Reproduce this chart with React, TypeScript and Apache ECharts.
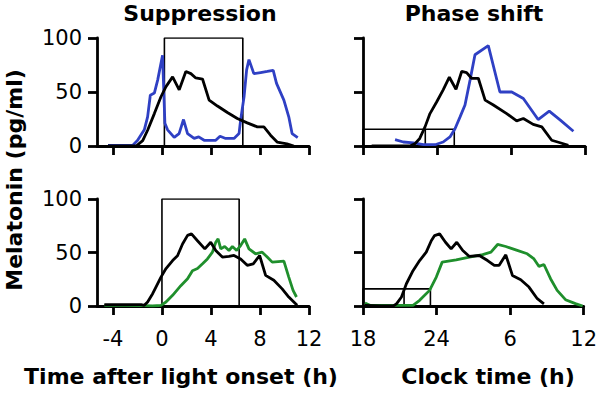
import React, { useEffect, useRef } from "react";
import * as echarts from "echarts";

// ---- axis ticks ----
const yTicks = [0, 50, 100];
const leftXTicks = [-4, 0, 4, 8, 12];
const rightXTicks = [18, 24, 30, 36];

// ---- texts ----
const titleLeft = "Suppression";
const titleRight = "Phase shift";
const xNameLeft = "Time after light onset (h)";
const xNameRight = "Clock time (h)";
const yName = "Melatonin (pg/ml)";

// ---- top-left: suppression (baseline black, light blue) ----
const supBaseX = [-4.4, -3, -2.1, -1.57, -1.17, -0.62, -0.08, 0.33, 0.87, 1.41, 1.95, 2.36, 2.76, 3.31, 3.85, 4.53, 5.34, 6.15, 6.96, 7.78, 8.32, 8.86, 9.4, 10.2, 10.76];
const supBaseY = [0, 0, 0, 5, 14.6, 30, 45.6, 55, 64, 52, 69, 67, 63, 62, 42.5, 37, 31, 25.5, 21.4, 17.7, 17.7, 10, 3.7, 2, 0];
const supBlueX = [-4.4, -3.5, -2.4, -2.0, -1.44, -1.17, -0.95, -0.62, -0.35, 0.05, 0.24, 0.46, 1.0, 1.4, 1.76, 2.09, 2.63, 3.0, 3.44, 3.85, 4.39, 4.74, 5.2, 5.88, 6.29, 6.42, 6.7, 6.91, 7.1, 7.5, 8.05, 8.6, 9.08, 9.35, 9.95, 10.35, 10.62, 11.08];
const supBlueY = [0.6, 0.6, 0.5, 5, 15, 27, 47, 49, 61, 84, 21, 15, 8, 11.5, 24.5, 11.5, 7, 8.4, 5.3, 5.3, 5.3, 9, 7, 7, 11.5, 24, 45.6, 70.5, 80, 67, 68, 69, 70, 58, 42.5, 27, 11.5, 7.8];

// ---- bottom-left: suppression (baseline black, light green) ----
const supBase2X = [-4.7, -3, -1.7, -1.44, -1.17, -0.76, -0.49, -0.08, 0.33, 0.87, 1.27, 1.68, 2.09, 2.41, 2.9, 3.5, 3.98, 4.39, 4.93, 5.47, 5.88, 6.42, 6.96, 7.45, 7.97, 8.46, 9.13, 9.81, 10.35, 11.03];
const supBase2Y = [1.2, 1.2, 1.2, 0.6, 3.7, 11.5, 17.7, 27, 35, 42.5, 47, 58, 66, 67.4, 61, 53.4, 59.6, 51.9, 45.7, 46.3, 47.2, 44, 38, 39.4, 47.2, 28.6, 24, 16, 8.4, 0.6];
const supGreenX = [-4.7, -3, -1.5, -0.76, -0.08, 0.33, 0.87, 1.54, 2.09, 2.49, 2.9, 3.31, 3.71, 4.12, 4.39, 4.58, 4.8, 5.12, 5.47, 5.75, 6.1, 6.42, 6.75, 7.1, 7.64, 8.18, 8.59, 9.0, 9.95, 10.35, 10.7, 10.98];
const supGreenY = [0.6, 0.6, 0.3, 0, 0.6, 3.7, 10, 19, 25.5, 33, 35, 39.4, 44, 50.3, 59.6, 62.7, 53.4, 55.6, 51.9, 55.6, 51.9, 56.5, 62.7, 53.4, 48.8, 50.3, 45.7, 41, 42, 27, 14.6, 8.4];

// ---- top-right: phase shift (baseline black, after blue) ----
const phBaseX = [18.7, 20, 21.8, 22.2, 22.6, 23.03, 23.43, 23.98, 24.5, 25.0, 25.54, 26.0, 26.4, 26.8, 27.35, 27.9, 28.57, 29.65, 30.46, 31.0, 31.8, 32.5, 33.3, 33.98, 34.65];
const phBaseY = [0, 0, 0, 2, 7, 17.7, 30, 41, 52, 63.7, 52.5, 69, 68, 62.7, 62.7, 42.5, 38, 30, 23.3, 25.5, 20, 17.7, 5.3, 3, 0.6];
const phBlueX = [20.6, 21.27, 22.08, 22.9, 23.84, 24.5, 25.05, 25.46, 25.87, 26.27, 26.68, 27.08, 28.16, 29.1, 30.06, 31.0, 32.2, 33.1, 34.0, 35.06];
const phBlueY = [5.9, 3.7, 2.8, 1.2, 1.2, 3.7, 8.4, 16, 27, 38, 61, 84.5, 93, 50, 50, 44, 24.5, 32.3, 24, 13.7];

// ---- bottom-right: phase shift (baseline black, after green) ----
const phBase2X = [18.16, 19.5, 20.46, 20.73, 21.14, 21.54, 22.08, 22.62, 23.16, 23.57, 23.84, 24.25, 24.73, 25.19, 25.65, 26.14, 26.68, 27.49, 28.16, 28.71, 29.11, 29.65, 30.19, 30.87, 31.54, 32.22, 32.76];
const phBase2Y = [0.6, 0, 0, 2, 8.4, 20.8, 33, 42.5, 50.3, 61, 65.8, 67.4, 59.6, 53.4, 59.6, 51.9, 46.3, 47.2, 42.5, 38, 38, 47.8, 28.6, 24.5, 17.7, 6.8, 2];
const phGreenX = [18.16, 18.57, 20, 21.8, 22.08, 22.62, 23.43, 23.98, 24.46, 25.6, 26.68, 27.76, 28.44, 28.98, 29.65, 30.46, 31.4, 31.95, 32.36, 32.76, 33.3, 33.84, 34.52, 35.33, 35.92];
const phGreenY = [2.8, 0.6, 0.5, 0.5, 0.6, 5.3, 14.6, 27, 41, 43, 45.7, 48, 50.3, 57.5, 55.6, 52.5, 48.8, 44, 37, 38.8, 25.5, 14.6, 5.9, 2.2, 0];

// ---- light exposure boxes: [start, end, height] and marker time ----
const lightTopLeft = [0.2, 6.6, 100];
const lightBottomLeft = [0, 6.3, 100];
const dimTopRight = [18, 25.4, 15.5];
const dimBottomRight = [18, 23.5, 16];
const markTopRight = 23.05;
const markBottomRight = 21.35;

const BLUE = "#2f40c4";
const GREEN = "#1f8f2c";
const BLACK = "#000000";
const FONT = "DejaVu Sans";

const zip = (xs: number[], ys: number[]) => xs.map((x, i) => [x, ys[i]]);
const boxData = (b: number[]) => [[b[0], 0], [b[0], b[2]], [b[1], b[2]], [b[1], 0]];

export default function App() {
  const ref = useRef<HTMLDivElement>(null);

  useEffect(() => {
    document.body.style.margin = "0";
    if (!ref.current) return;
    const chart = echarts.init(ref.current, undefined, { renderer: "svg" });

    const grids = [
      { left: 97, top: 38, width: 212, height: 108 },
      { left: 363, top: 38, width: 222, height: 108 },
      { left: 97, top: 199, width: 212, height: 107 },
      { left: 363, top: 199, width: 222, height: 107 },
    ];

    const axisLine = { show: true, onZero: false, lineStyle: { color: BLACK, width: 2.8 } };
    const tickStyle = { color: BLACK, width: 2.8 };
    const labelStyle = { color: BLACK, fontSize: 21, fontFamily: FONT };

    const xAxis = [0, 1, 2, 3].map((i) => {
      const isLeft = i % 2 === 0;
      const showLabel = i >= 2;
      if (isLeft) {
        return {
          type: "value", gridIndex: i, min: -5.3, max: 12,
          axisLine, splitLine: { show: false },
          axisTick: { show: true, length: 9, lineStyle: tickStyle, customValues: leftXTicks },
          axisLabel: { show: showLabel, ...labelStyle, margin: 22, customValues: leftXTicks },
        };
      }
      return {
        type: "value", gridIndex: i, min: rightXTicks[0], max: rightXTicks[rightXTicks.length - 1], interval: 6,
        axisLine, splitLine: { show: false },
        axisTick: { show: true, length: 9, lineStyle: tickStyle },
        axisLabel: {
          show: showLabel, ...labelStyle, margin: 22,
          formatter: (v: number) => String(v <= 24 ? v : v - 24),
        },
      };
    });

    const yAxis = [0, 1, 2, 3].map((i) => ({
      type: "value", gridIndex: i, min: yTicks[0], max: yTicks[yTicks.length - 1], interval: 50,
      axisLine, splitLine: { show: false },
      axisTick: { show: true, length: 9, lineStyle: tickStyle },
      axisLabel: { show: i % 2 === 0, ...labelStyle, margin: 15 },
    }));

    const line = (i: number, data: number[][], color: string, width = 2.8) => ({
      type: "line", xAxisIndex: i, yAxisIndex: i, data,
      symbol: "none", showSymbol: false, silent: true,
      color, lineStyle: { color, width },
    });

    const series = [
      line(0, boxData(lightTopLeft), BLACK, 1.6),
      line(0, zip(supBlueX, supBlueY), BLUE),
      line(0, zip(supBaseX, supBaseY), BLACK),
      line(1, boxData(dimTopRight), BLACK, 1.6),
      line(1, [[markTopRight, 0], [markTopRight, dimTopRight[2]]], BLACK, 1.6),
      line(1, zip(phBlueX, phBlueY), BLUE),
      line(1, zip(phBaseX, phBaseY), BLACK),
      line(2, boxData(lightBottomLeft), BLACK, 1.6),
      line(2, zip(supGreenX, supGreenY), GREEN),
      line(2, zip(supBase2X, supBase2Y), BLACK),
      line(3, boxData(dimBottomRight), BLACK, 1.6),
      line(3, [[markBottomRight, 0], [markBottomRight, dimBottomRight[2]]], BLACK, 1.6),
      line(3, zip(phGreenX, phGreenY), GREEN),
      line(3, zip(phBase2X, phBase2Y), BLACK),
    ];

    const boldText = (text: string, x: number, y: number, rotation = 0) => ({
      type: "text", x, y, rotation, silent: true,
      style: {
        text, fill: BLACK, fontSize: 22, fontWeight: "bold", fontFamily: FONT,
        align: "center", verticalAlign: "middle",
      },
    });

    chart.setOption({
      animation: false,
      backgroundColor: "#ffffff",
      grid: grids,
      xAxis,
      yAxis,
      series,
      graphic: [
        boldText(titleLeft, 200, 13),
        boldText(titleRight, 474, 13),
        boldText(xNameLeft, 181, 376),
        boldText(xNameRight, 488, 376),
        boldText(yName, 14, 180, Math.PI / 2),
      ],
    });

    return () => chart.dispose();
  }, []);

  return <div ref={ref} style={{ width: 600, height: 395 }} />;
}
